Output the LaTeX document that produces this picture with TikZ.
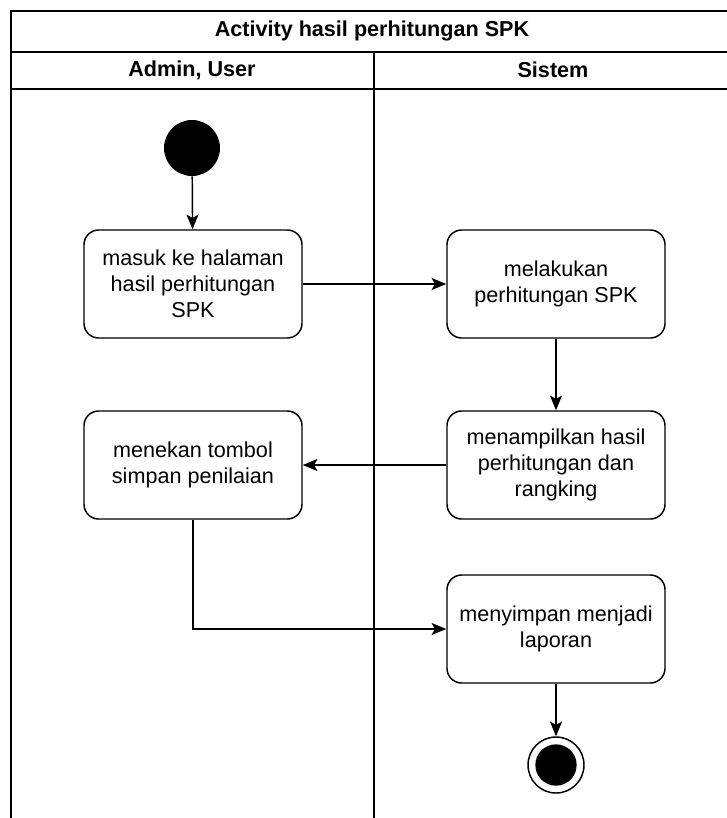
\documentclass[tikz,border=0pt]{standalone}
\usepackage{fontspec}
\setmainfont{Liberation Sans}
\usetikzlibrary{arrows.meta}
\begin{document}
\begin{tikzpicture}[x=0.75pt,y=-0.75pt,
  lane/.style={line width=1.2pt},
  act/.style={draw, line width=1.1pt, rounded corners=11pt, minimum width=163.5pt,
    minimum height=81pt, align=center, inner sep=2pt,
    font=\fontsize{16.2pt}{19.5pt}\selectfont},
  initial/.style={circle, fill=black, minimum size=42pt, inner sep=0pt},
  final/.style={circle, draw, line width=1.1pt, fill=white, minimum size=42pt, inner sep=0pt,
    path picture={\fill[black] (path picture bounding box.center) circle (15.5pt);}},
  flow/.style={line width=1.1pt, -{Stealth[length=11pt,width=9pt,inset=2.5pt]}},
  head/.style={font=\bfseries\fontsize{16.2pt}{19.5pt}\selectfont}
]
\useasboundingbox (0,0) rectangle (727,818);
\clip (0,0) rectangle (727,818);

% swimlane pool: frame, title band, lane headers and divider
\draw[lane] (740,11) -- (11,11) -- (11,830);
\draw[lane] (11,52) -- (740,52);
\draw[lane] (11,89) -- (740,89);
\draw[lane] (374,52) -- (374,830);
\node[head] (title) at (372,31) {Activity hasil perhitungan SPK};
\node[head] (laneA) at (192,70) {Admin, User};
\node[head] (laneB) at (553,70) {Sistem};

% activities
\node[initial] (start) at (192,148) {};
\node[act] (a1) at (193,284) {masuk ke halaman\\hasil perhitungan\\SPK};
\node[act] (a2) at (556,284) {melakukan\\perhitungan SPK};
\node[act] (a3) at (556,465) {menampilkan hasil\\perhitungan dan\\rangking};
\node[act] (a4) at (193,465) {menekan tombol\\simpan penilaian};
\node[act] (a5) at (556,629) {menyimpan menjadi\\laporan};
\node[final] (stop) at (556,765) {};

% control flow
\draw[flow] (start) -- (a1);
\draw[flow] (a1) -- (a2);
\draw[flow] (a2) -- (a3);
\draw[flow] (a3) -- (a4);
\draw[flow] (a4.south) -- (a4.south |- a5.west) -- (a5.west);
\draw[flow] (a5) -- (stop);
\end{tikzpicture}
\end{document}
